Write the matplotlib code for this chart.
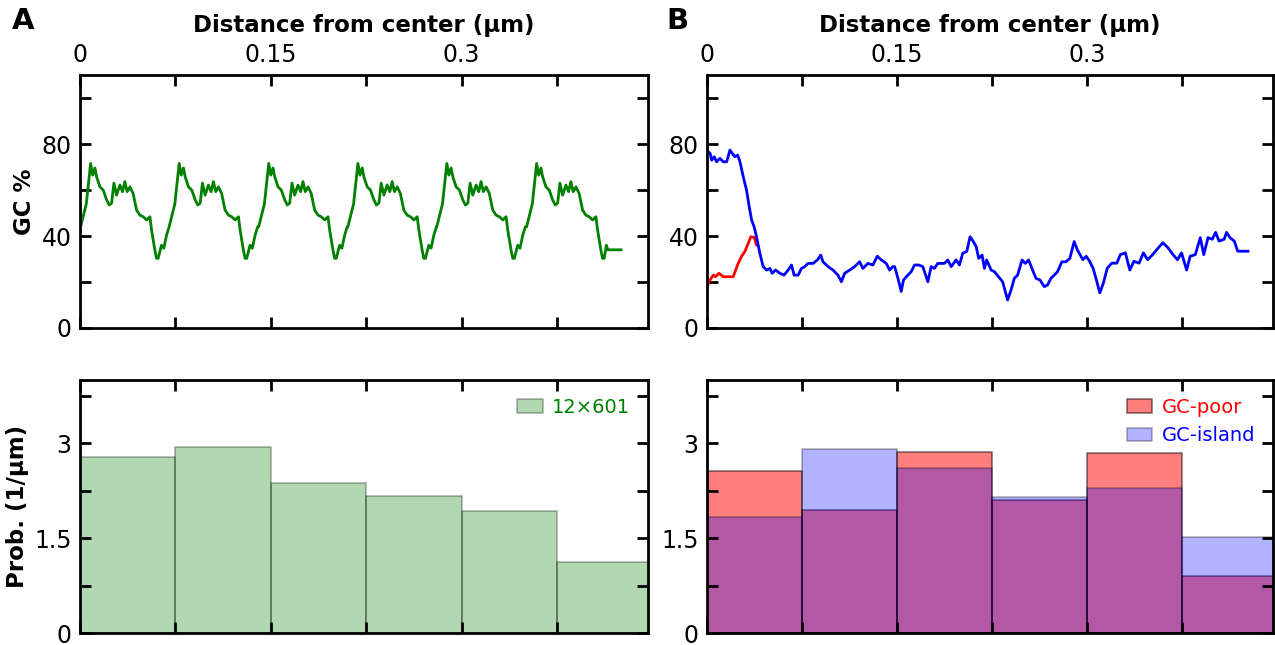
import matplotlib
matplotlib.use("Agg")
import matplotlib.pyplot as plt
import numpy as np

# GC content along one 601 repeat (offset from repeat peak in um, GC %)
repeat_dx = [-0.0079, -0.0034, 0.0, 0.0016, 0.0034, 0.0047, 0.0073, 0.0099, 0.0126,
             0.0146, 0.0165, 0.0183, 0.0204, 0.0230, 0.0251, 0.0269, 0.0287, 0.0309,
             0.0334, 0.0361, 0.0387, 0.0413, 0.0440, 0.0466, 0.0479, 0.0505, 0.0518,
             0.0531, 0.0557, 0.0575, 0.0597, 0.0617]
repeat_gc = [44, 54, 71.6, 66.5, 69.6, 65.8, 61.4, 60, 55.7,
             53.5, 54.3, 63, 57.8, 62.2, 59.3, 63.7, 59.3, 61.4,
             58.5, 51.3, 49.1, 48.4, 47, 48.4, 42.6, 33.9, 30.3,
             30.3, 36, 34.7, 40.4, 44]
repeat_peaks = [0.0084, 0.0780, 0.1484, 0.2185, 0.2884, 0.3590]
tail_x = [0.4138, 0.4150, 0.4253]
tail_gc = [36, 34, 34]

# B: GC-poor region and GC-island trace
poor_x = [0.0, 0.0024, 0.0050, 0.0068, 0.0094, 0.0128, 0.0167, 0.0207, 0.0226,
          0.0246, 0.0273, 0.0299, 0.0325, 0.0346, 0.0372, 0.0391]
poor_gc = [18, 20.9, 23, 22.3, 23.8, 22.3, 22.3, 22.3, 25.2,
           28.1, 31.2, 33.3, 36.8, 39.7, 39.4, 36.1]

island_x = [0.0, 0.0024, 0.0037, 0.0057, 0.0076, 0.0102, 0.0128, 0.0155, 0.0181, 0.0199,
            0.0220, 0.0242, 0.0260, 0.0286, 0.0312, 0.0333, 0.0352, 0.0372, 0.0391, 0.0417,
            0.0443, 0.0470, 0.0496, 0.0514, 0.0541, 0.0575, 0.0608, 0.0640, 0.0667, 0.0687,
            0.0719, 0.0745, 0.0771, 0.0797, 0.0837, 0.0871, 0.0897, 0.0915, 0.0955, 0.0994,
            0.1033, 0.1060, 0.1086, 0.1125, 0.1165, 0.1204, 0.1230, 0.1269, 0.1309, 0.1343,
            0.1375, 0.1414, 0.1440, 0.1466, 0.1480, 0.1506, 0.1532, 0.1550, 0.1584, 0.1611,
            0.1637, 0.1671, 0.1702, 0.1742, 0.1768, 0.1794, 0.1820, 0.1873, 0.1899, 0.1926,
            0.1965, 0.1991, 0.2017, 0.2049, 0.2075, 0.2101, 0.2123, 0.2143, 0.2170, 0.2188,
            0.2206, 0.2241, 0.2267, 0.2300, 0.2332, 0.2371, 0.2398, 0.2424, 0.2450, 0.2485,
            0.2511, 0.2537, 0.2568, 0.2595, 0.2626, 0.2660, 0.2686, 0.2713, 0.2739, 0.2765,
            0.2799, 0.2831, 0.2862, 0.2896, 0.2922, 0.2965, 0.2991, 0.3018, 0.3045, 0.3072,
            0.3098, 0.3125, 0.3157, 0.3193, 0.3233, 0.3260, 0.3300, 0.3335, 0.3367, 0.3408,
            0.3442, 0.3475, 0.3515, 0.3560, 0.3596, 0.3636, 0.3676, 0.3711, 0.3743, 0.3783,
            0.3811, 0.3851, 0.3891, 0.3918, 0.3952, 0.3985, 0.4012, 0.4039, 0.4079, 0.4098,
            0.4125, 0.4159, 0.4186, 0.4267]
island_gc = [77.4, 76, 73, 74.5, 72.3, 73.8, 72.3, 72.3, 77.4, 76,
             74.5, 75.2, 72.3, 65.8, 60, 52.7, 47, 44, 39.7, 32.5,
             26.7, 25.2, 25.9, 23.8, 25.2, 23.8, 23, 25.2, 27.4, 23,
             23, 25.9, 26.7, 28.1, 28.1, 29.6, 31.7, 28.8, 26.7, 25.2,
             23, 20.1, 23.8, 25.2, 26.7, 28.8, 25.9, 28.1, 27.4, 31.2,
             29.6, 28.1, 25.2, 26.7, 26.7, 21.6, 15.9, 20.9, 23, 24.5,
             27.4, 27.4, 26.7, 20.1, 26.7, 25.9, 28.1, 28.1, 29.6, 26.7,
             29.6, 27.4, 32.5, 33.3, 39.7, 37.6, 35.4, 30.3, 31.7, 25.9,
             29.6, 25.2, 24.5, 22.3, 20.1, 12.2, 16.5, 21.6, 23, 29.6,
             28.1, 29.6, 25.2, 21.6, 20.9, 18, 18.7, 21.6, 23, 24.5,
             28.8, 28.8, 30.3, 37.6, 33.9, 29.7, 31.2, 29, 26, 20.8,
             15.3, 19.3, 26, 28.2, 28.2, 31.9, 32.7, 25.2, 29, 28.2,
             32.7, 29.7, 31.9, 34.9, 37.1, 34.9, 31.9, 29.7, 32.7, 25.2,
             31.2, 31.9, 39.3, 31.9, 39.3, 38.6, 41.6, 37.8, 38.6, 41.6,
             39.3, 37.8, 33.4, 33.4]

# Histograms (6 bins of 0.075 um)
bin_edges = [0, 0.075, 0.15, 0.225, 0.3, 0.375, 0.45]
prob_array = [2.78, 2.94, 2.37, 2.16, 1.93, 1.12]
prob_poor = [2.56, 1.94, 2.86, 2.10, 2.84, 0.90]
prob_island = [1.83, 2.91, 2.61, 2.15, 2.29, 1.52]

XMAX = 0.4465
FS = 17
LFS = 16.5

# build the full A trace from the repeats, last one cut at the trough
trace_x, trace_gc = [], []
for i, p in enumerate(repeat_peaks):
    n = len(repeat_dx) if i < len(repeat_peaks) - 1 else 28
    for dx, g in zip(repeat_dx[:n], repeat_gc[:n]):
        if p + dx >= 0:
            trace_x.append(p + dx)
            trace_gc.append(g)
trace_x += tail_x
trace_gc += tail_gc

fig = plt.figure(figsize=(12.75, 6.45), dpi=100)
axA1 = fig.add_axes([0.0627, 0.4915, 0.4455, 0.392])
axA2 = fig.add_axes([0.0627, 0.0186, 0.4455, 0.392])
axB1 = fig.add_axes([0.5545, 0.4915, 0.4440, 0.392])
axB2 = fig.add_axes([0.5545, 0.0186, 0.4440, 0.392])


def style(ax, top):
    for s in ax.spines.values():
        s.set_linewidth(2)
    ax.set_xlim(0, XMAX)
    ax.set_xticks([0, 0.15, 0.3])
    ax.set_xticks([0.075, 0.225, 0.375], minor=True)
    ax.tick_params(which="both", direction="in", length=8, width=2,
                   top=True, bottom=True, left=True, right=True,
                   labelsize=FS, pad=6)
    if top:
        ax.set_ylim(0, 110)
        ax.set_yticks([0, 40, 80])
        ax.set_yticks([20, 60, 100], minor=True)
        ax.xaxis.set_ticks_position("both")
        ax.tick_params(labeltop=True, labelbottom=False)
        ax.set_xticklabels(["0", "0.15", "0.3"])
        ax.xaxis.set_label_position("top")
        ax.set_xlabel("Distance from center (μm)", fontsize=LFS, fontweight="bold", labelpad=8)
    else:
        ax.set_ylim(0, 4)
        ax.set_yticks([0, 1.5, 3])
        ax.set_yticks([0.75, 2.25, 3.75], minor=True)
        ax.set_yticklabels(["0", "1.5", "3"])
        ax.tick_params(labelbottom=False)


# A: 12x601 array
axA1.plot(trace_x, trace_gc, color="green", lw=2)
style(axA1, True)
axA1.set_ylabel("GC %", fontsize=LFS, fontweight="bold")

axA2.hist(bin_edges[:-1], bins=bin_edges, weights=prob_array, color="green",
          alpha=0.3, edgecolor="k", lw=1.2, label="12×601")
style(axA2, False)
axA2.set_ylabel("Prob. (1/μm)", fontsize=LFS, fontweight="bold")
leg = axA2.legend(loc="upper right", frameon=False, fontsize=14, handlelength=1.3,
                  handletextpad=0.5)
leg.get_texts()[0].set_color("green")

# B: GC-poor vs GC-island
axB1.plot(poor_x, poor_gc, color="red", lw=2)
axB1.plot(island_x, island_gc, color="blue", lw=2)
style(axB1, True)

axB2.hist(bin_edges[:-1], bins=bin_edges, weights=prob_poor, color="red",
          alpha=0.5, edgecolor="k", lw=1.2, label="GC-poor")
axB2.hist(bin_edges[:-1], bins=bin_edges, weights=prob_island, color="blue",
          alpha=0.3, edgecolor="k", lw=1.2, label="GC-island")
style(axB2, False)
leg = axB2.legend(loc="upper right", frameon=False, fontsize=14, handlelength=1.3,
                  handletextpad=0.5)
for t, c in zip(leg.get_texts(), ["red", "blue"]):
    t.set_color(c)

fig.text(0.009, 0.955, "A", fontsize=21, fontweight="bold")
fig.text(0.523, 0.955, "B", fontsize=21, fontweight="bold")

fig.savefig("out.png", dpi=100)
